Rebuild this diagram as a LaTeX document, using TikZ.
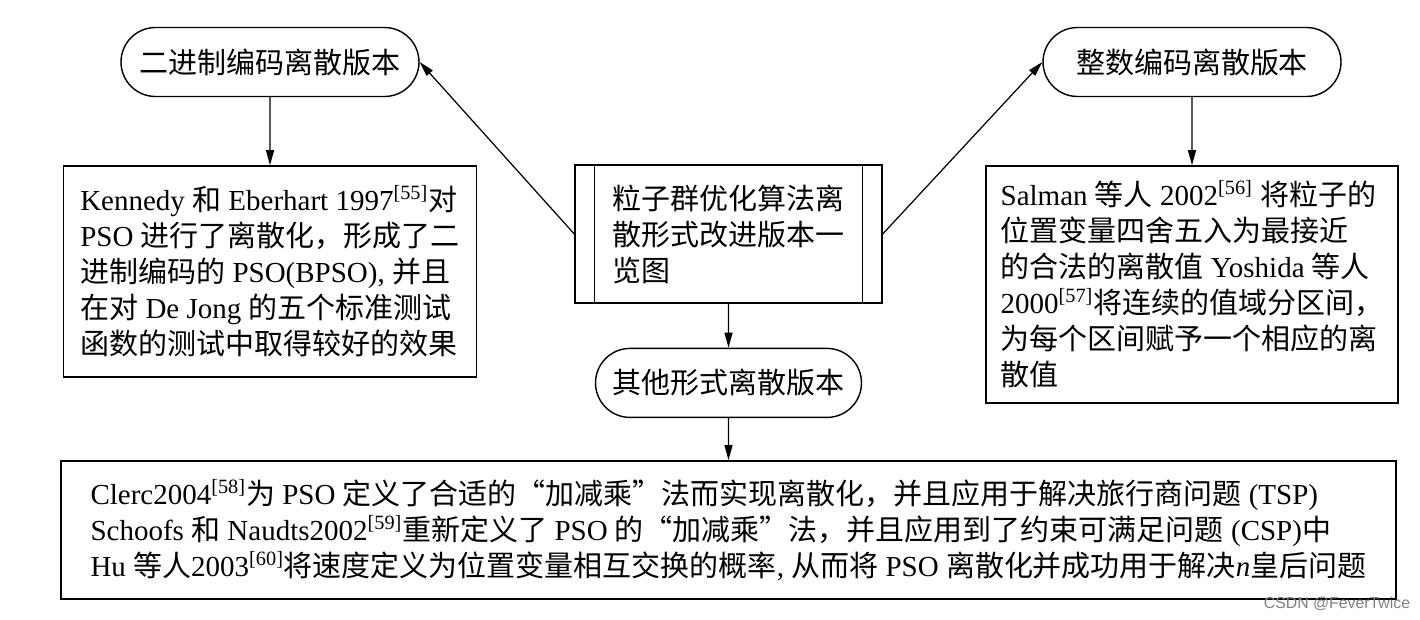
\documentclass[tikz,border=0pt]{standalone}
\usepackage{fontspec}
\setmainfont{Liberation Serif}
\newfontfamily\cjk{Noto Sans CJK SC}
\newfontfamily\wmfont{Liberation Sans}
\usetikzlibrary{shapes.misc, arrows.meta, positioning}
% switch to the CJK font for Chinese characters
\XeTeXinterchartokenstate=1
\newXeTeXintercharclass\CJKclass
\def\setcjkrange#1#2{\count255=#1 \loop\XeTeXcharclass\count255=\CJKclass\relax
	\ifnum\count255<#2 \advance\count255 by 1 \repeat}
\setcjkrange{"4E00}{"9FFF}
\setcjkrange{"3000}{"303F}
\setcjkrange{"FF00}{"FFEF}
\setcjkrange{"201C}{"201D}
\XeTeXinterchartoks 0 \CJKclass = {\cjk}
\XeTeXinterchartoks 4095 \CJKclass = {\cjk}
\XeTeXinterchartoks \CJKclass 0 = {\rmfamily}
\XeTeXinterchartoks \CJKclass 4095 = {\rmfamily}
\tikzset{
	verbox/.style ={rounded rectangle, draw=black, line width=0.8pt, minimum width=6.1cm, minimum height=1.38cm, inner sep=2pt},
	txtbox/.style ={rectangle, draw=black, line width=0.8pt, align=left, inner sep=4pt},
	procbox/.style={rectangle, draw=black, line width=0.8pt, align=left, inner sep=4pt},
	arr/.style    ={-{Triangle[length=3mm, width=1.6mm]}, line width=0.7pt},
}
\begin{document}
\begin{tikzpicture}[font=\fontsize{16.5}{20.5}\selectfont]
	\useasboundingbox (0,0) rectangle (28.4,-12.38);
	\node[procbox, minimum width=6.14cm, minimum height=2.76cm] (cbox) at (14.57,-4.68) {粒子群优化算法离\\散形式改进版本一\\览图};
	\draw[line width=0.8pt] ([xshift=0.4cm]cbox.north west) -- ([xshift=0.4cm]cbox.south west);
	\draw[line width=0.8pt] ([xshift=-0.4cm]cbox.north east) -- ([xshift=-0.4cm]cbox.south east);
	\node[verbox] (bin) at (5.4,-1.24) {二进制编码离散版本};
	\node[verbox] (intg) at (23.84,-1.24) {整数编码离散版本};
	\node[txtbox, below=1.36cm of bin, minimum width=8.26cm, minimum height=4.22cm] (lbox) {Kennedy 和 Eberhart 1997\textsuperscript{[55]}对\\PSO 进行了离散化，形成了二\\进制编码的 PSO(BPSO), 并且\\在对 De Jong 的五个标准测试\\函数的测试中取得较好的效果};
	\node[txtbox, below=1.36cm of intg, minimum width=8.24cm, minimum height=4.74cm] (rbox) {Salman 等人 2002\textsuperscript{[56]} 将粒子的\\位置变量四舍五入为最接近\\的合法的离散值 Yoshida 等人\\2000\textsuperscript{[57]}将连续的值域分区间，\\为每个区间赋予一个相应的离\\散值};
	\node[verbox, minimum width=5.46cm, below=0.88cm of cbox] (oth) {其他形式离散版本};
	\node[txtbox, below=0.84cm of oth, minimum width=26.7cm, minimum height=2.76cm] (bbox) {Clerc2004\textsuperscript{[58]}为 PSO 定义了合适的“加减乘”法而实现离散化，并且应用于解决旅行商问题 (TSP)\\Schoofs 和 Naudts2002\textsuperscript{[59]}重新定义了 PSO 的“加减乘”法，并且应用到了约束可满足问题 (CSP)中\\Hu 等人2003\textsuperscript{[60]}将速度定义为位置变量相互交换的概率, 从而将 PSO 离散化并成功用于解决\textit{n}皇后问题};
	\draw[arr] (cbox.west) -- (bin.east);
	\draw[arr] (cbox.east) -- (intg.west);
	\draw[arr] (bin) -- (lbox);
	\draw[arr] (intg) -- (rbox);
	\draw[arr] (cbox) -- (oth);
	\draw[arr] (oth) -- (bbox);
	\node[font=\wmfont\fontsize{9}{10}\selectfont, text=gray] (wm) at (26.74,-12.08) {CSDN @FeverTwice};
\end{tikzpicture}
\end{document}
